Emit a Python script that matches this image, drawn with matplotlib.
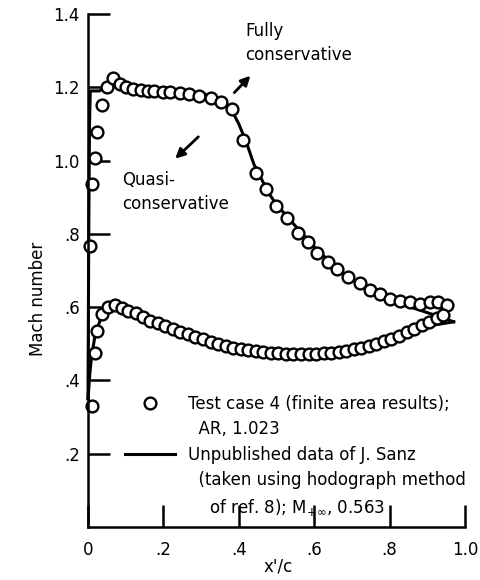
import numpy as np
import matplotlib
matplotlib.use('Agg')
import matplotlib.pyplot as plt
from matplotlib.lines import Line2D

plt.rcParams['font.family'] = ['Liberation Sans Narrow', 'DejaVu Sans']
plt.rcParams['mathtext.fontset'] = 'dejavusans'

# test case 4, finite area results (circles)
x_up = [0.005, 0.011, 0.019, 0.023, 0.036, 0.050, 0.066, 0.085, 0.102, 0.120,
        0.140, 0.158, 0.176, 0.200, 0.218, 0.245, 0.268, 0.294, 0.325, 0.352,
        0.383, 0.410, 0.446, 0.472, 0.499, 0.527, 0.556, 0.583, 0.607, 0.636,
        0.660, 0.690, 0.721, 0.748, 0.775, 0.801, 0.828, 0.854, 0.881, 0.907,
        0.929, 0.951]
m_up = [0.766, 0.936, 1.008, 1.078, 1.153, 1.200, 1.224, 1.210, 1.200, 1.195,
        1.192, 1.190, 1.189, 1.188, 1.187, 1.185, 1.182, 1.177, 1.170, 1.160,
        1.142, 1.056, 0.966, 0.922, 0.877, 0.842, 0.802, 0.778, 0.749, 0.723,
        0.705, 0.683, 0.666, 0.648, 0.635, 0.622, 0.617, 0.613, 0.608, 0.613,
        0.613, 0.605]

x_lo = [0.011, 0.019, 0.023, 0.036, 0.054, 0.072, 0.090, 0.107, 0.128, 0.146,
        0.165, 0.185, 0.205, 0.225, 0.245, 0.265, 0.285, 0.305, 0.325, 0.345,
        0.365, 0.385, 0.405, 0.425, 0.445, 0.465, 0.485, 0.505, 0.525, 0.545,
        0.565, 0.585, 0.605, 0.625, 0.645, 0.665, 0.685, 0.705, 0.725, 0.745,
        0.765, 0.785, 0.805, 0.825, 0.845, 0.865, 0.885, 0.905, 0.925, 0.942]
m_lo = [0.330, 0.474, 0.534, 0.580, 0.600, 0.605, 0.597, 0.589, 0.583, 0.572,
        0.563, 0.556, 0.548, 0.541, 0.533, 0.526, 0.518, 0.512, 0.505, 0.499,
        0.494, 0.489, 0.485, 0.482, 0.479, 0.477, 0.475, 0.474, 0.473, 0.472,
        0.472, 0.472, 0.473, 0.474, 0.476, 0.478, 0.481, 0.485, 0.489, 0.494,
        0.500, 0.507, 0.514, 0.522, 0.531, 0.540, 0.550, 0.560, 0.570, 0.578]

# unpublished data of J. Sanz (solid line)
xs_up = [0.0, 0.002, 0.004, 0.006, 0.03, 0.05, 0.07, 0.10, 0.15, 0.20, 0.25,
         0.30, 0.33, 0.36, 0.38, 0.40, 0.42, 0.44, 0.46, 0.48, 0.50, 0.53,
         0.56, 0.60, 0.64, 0.68, 0.72, 0.76, 0.80, 0.84, 0.88, 0.92, 0.97]
ms_up = [0.35, 0.80, 1.10, 1.19, 1.19, 1.20, 1.21, 1.205, 1.198, 1.196, 1.192,
         1.184, 1.175, 1.16, 1.14, 1.10, 1.05, 0.99, 0.95, 0.91, 0.88, 0.845,
         0.81, 0.765, 0.725, 0.69, 0.665, 0.645, 0.628, 0.605, 0.592, 0.578, 0.56]
xs_lo = [0.0, 0.005, 0.01, 0.02, 0.04, 0.07, 0.10, 0.15, 0.20, 0.25, 0.30,
         0.35, 0.40, 0.45, 0.50, 0.55, 0.60, 0.65, 0.70, 0.75, 0.80, 0.85,
         0.90, 0.97]
ms_lo = [0.35, 0.42, 0.47, 0.53, 0.585, 0.603, 0.595, 0.572, 0.55, 0.53, 0.51,
         0.495, 0.485, 0.478, 0.474, 0.472, 0.474, 0.48, 0.49, 0.502, 0.517,
         0.533, 0.548, 0.56]

xticks = [0, 0.2, 0.4, 0.6, 0.8, 1.0]
xlabels = ['0', '.2', '.4', '.6', '.8', '1.0']
yticks = [0.2, 0.4, 0.6, 0.8, 1.0, 1.2, 1.4]
ylabels = ['.2', '.4', '.6', '.8', '1.0', '1.2', '1.4']

fig = plt.figure(figsize=(4.81, 5.80), dpi=100)
ax = fig.add_axes([88/481, 53/580, 377/481, 513/580])

ax.plot(xs_up, ms_up, 'k-', lw=2.2, clip_on=False)
line, = ax.plot(xs_lo, ms_lo, 'k-', lw=2.2, clip_on=False)
circ, = ax.plot(x_up, m_up, 'o', ms=8.5, mfc='white', mec='k', mew=1.7, ls='none', clip_on=False)
ax.plot(x_lo, m_lo, 'o', ms=8.5, mfc='white', mec='k', mew=1.7, ls='none', clip_on=False)

ax.set_xlim(0, 1.0)
ax.set_ylim(0, 1.4)
ax.spines['top'].set_visible(False)
ax.spines['right'].set_visible(False)
for s in ['left', 'bottom']:
    ax.spines[s].set_linewidth(1.8)
ax.set_xticks(xticks)
ax.set_xticklabels(xlabels)
ax.set_yticks(yticks)
ax.set_yticklabels(ylabels)
ax.tick_params(direction='in', length=16, width=1.8, labelsize=12)
ax.tick_params(axis='y', pad=6)
ax.tick_params(axis='x', pad=10)

ax.set_ylabel('Mach number', fontsize=12)
ax.yaxis.set_label_coords(-0.108, 0.444)
ax.set_xlabel("x'/c", fontsize=12)
ax.xaxis.set_label_coords(0.504, -0.06)

ax.text(0.418, 1.32, 'Fully\nconservative', fontsize=12, ha='left', va='center', linespacing=1.45)
ax.annotate('', xy=(0.436, 1.237), xytext=(0.383, 1.18),
            arrowprops=dict(arrowstyle='-|>', lw=2, color='k', mutation_scale=14))
ax.text(0.09, 0.915, 'Quasi-\nconservative', fontsize=12, ha='left', va='center', linespacing=1.45)
ax.annotate('', xy=(0.226, 1.0), xytext=(0.298, 1.07),
            arrowprops=dict(arrowstyle='-|>', lw=2, color='k', mutation_scale=14))

blank = Line2D([], [], ls='none')
handles = [circ, blank, line, blank, blank]
labels = ['Test case 4 (finite area results);', '  AR, 1.023',
          'Unpublished data of J. Sanz', '  (taken using hodograph method',
          '    of ref. 8); M$_{+\\infty}$, 0.563']
ax.legend(handles, labels, loc='upper left', bbox_to_anchor=(0.098, 0.258),
          frameon=False, fontsize=12, handlelength=3.0, handletextpad=0.8,
          labelspacing=0.45, borderpad=0, borderaxespad=0)

fig.savefig('out.png', dpi=100)
